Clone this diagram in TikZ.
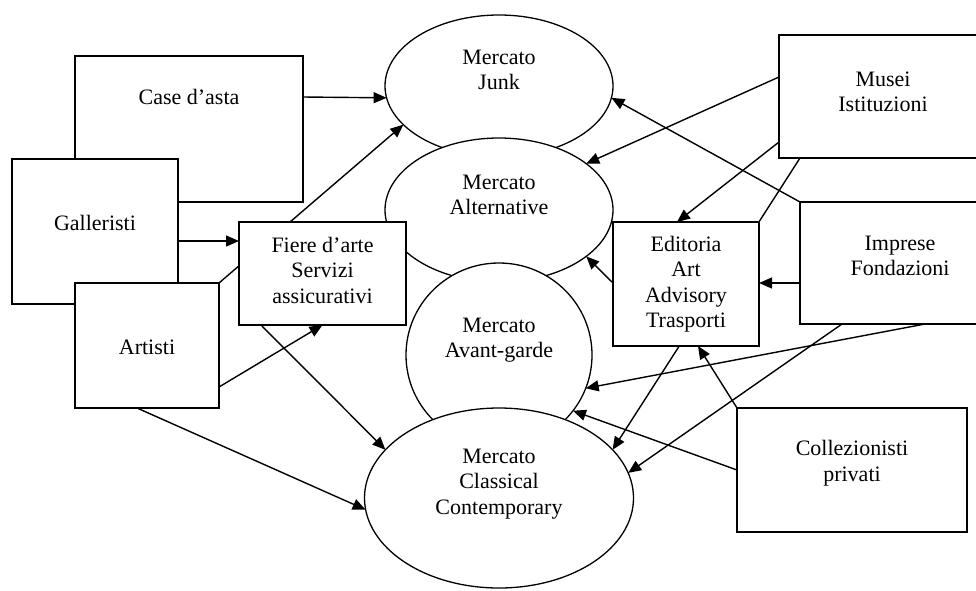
\documentclass[tikz,border=0pt]{standalone}
\usepackage{fontspec}
\setmainfont{Liberation Serif}
\usetikzlibrary{arrows.meta,shapes.geometric}
\pgfdeclarelayer{bg}
\pgfsetlayers{bg,main}
\begin{document}
\begin{tikzpicture}[x=1pt,y=-1pt,
  ell/.style={ellipse, draw, fill=white, line width=1.3pt, inner sep=0pt, outer sep=0pt},
  bx/.style={rectangle, draw, fill=white, line width=1.3pt, inner sep=0pt, outer sep=0pt},
  lbl/.style={align=center, font=\fontsize{22}{25.5}\selectfont, inner sep=0pt, draw=none, fill=none},
  con/.style={line width=1.4pt, -{Triangle[length=13pt,width=11pt]}}
]
\useasboundingbox (0,0) rectangle (976,590);
\clip (0,0) rectangle (976,590);

% ellipses (markets)
\node[ell, minimum width=228pt, minimum height=142pt,
  label={[lbl,yshift=16pt]center:Mercato\\Junk}] (junk) at (499,86) {};
\node[ell, minimum width=228pt, minimum height=144pt,
  label={[lbl,yshift=15pt]center:Mercato\\Alternative}] (alt) at (499,210) {};
\node[ell, minimum width=186pt, minimum height=184pt,
  label={[lbl,yshift=15pt]center:Mercato\\Avant-garde}] (avant) at (499,355) {};
\node[ell, minimum width=269pt, minimum height=180pt,
  label={[lbl,yshift=14pt]center:Mercato\\Classical\\Contemporary}] (classical) at (499,498) {};

% left boxes
\node[bx, minimum width=228pt, minimum height=146pt,
  label={[lbl,yshift=32pt]center:Case d’asta}] (case) at (189,129) {};
\node[bx, minimum width=166pt, minimum height=145pt,
  label={[lbl,yshift=8.5pt]center:Galleristi}] (galleristi) at (95,231.5) {};
\node[bx, minimum width=144pt, minimum height=125pt,
  label={[lbl,yshift=-1.5pt]center:Artisti}] (artisti) at (147,345.5) {};
\node[bx, minimum width=167pt, minimum height=103pt,
  label={[lbl,yshift=3.5pt]center:Fiere d’arte\\Servizi\\assicurativi}] (fiere) at (322.5,273.5) {};

% right boxes
\node[bx, minimum width=208pt, minimum height=123pt,
  label={[lbl,yshift=4.5pt]center:Musei\\Istituzioni}] (musei) at (883,96.5) {};
\node[bx, minimum width=200pt, minimum height=122pt,
  label={[lbl,yshift=7pt]center:Imprese\\Fondazioni}] (imprese) at (900,263) {};
\node[bx, minimum width=146pt, minimum height=124pt,
  label={[lbl,yshift=0pt]center:Editoria\\Art\\Advisory\\Trasporti}] (editoria) at (686,284) {};
\node[bx, minimum width=230pt, minimum height=124pt,
  label={[lbl,yshift=7pt]center:Collezionisti\\privati}] (coll) at (852,470) {};

% connectors hidden behind boxes
\begin{pgfonlayer}{bg}
\draw[con] (artisti.north east) -- (junk.202);
\draw[con] (musei.south -| 800,0) -- (classical.23);
\end{pgfonlayer}

% connectors
\draw[con] (case.east |- 0,97) -- (junk.186);
\draw[con] (galleristi.east |- 0,241) -- (fiere.west |- 0,241);
\draw[con] (artisti.east |- 0,387) -- (fiere.south);
\draw[con] (fiere.south -| 261,0) -- (classical.157);
\draw[con] (artisti.south -| 137,0) -- (classical.185);
\draw[con] (musei.west |- 0,77) -- (alt.28);
\draw[con] (imprese.north west) -- (junk.-6);
\draw[con] (musei.west |- 0,142) -- (editoria.north -| 677,0);
\draw[con] (imprese.west |- 0,283) -- (editoria.east |- 0,283);
\draw[con] (editoria.west |- 0,283) -- (alt.-28);
\draw[con] (imprese.south -| 925,0) -- (avant.-21);
\draw[con] (imprese.south -| 842,0) -- (classical.11);
\draw[con] (coll.north west) -- (editoria.south -| 698,0);
\draw[con] (coll.west |- 0,470) -- (avant.-37);
\end{tikzpicture}
\end{document}
